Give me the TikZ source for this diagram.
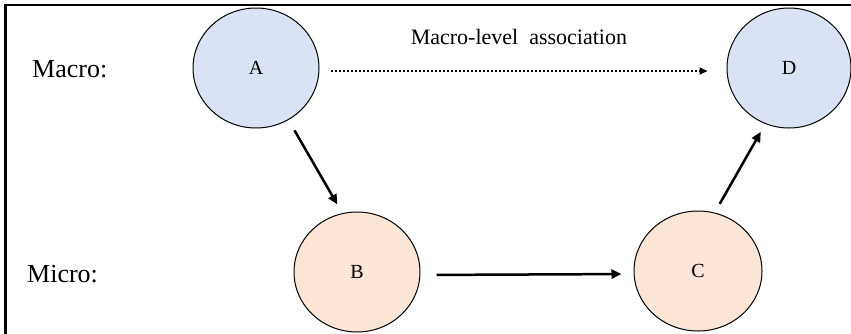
\documentclass[tikz,border=0pt]{standalone}
\usepackage{fontspec}
\setmainfont{Liberation Serif}
\usetikzlibrary{arrows.meta,shapes.geometric}
\definecolor{macrofill}{HTML}{DAE3F3}
\definecolor{microfill}{HTML}{FBE5D6}
\tikzset{
  circnode/.style={ellipse, draw=black, line width=1pt, minimum width=126pt, minimum height=120pt, inner sep=0pt, font=\fontsize{20}{22}\selectfont},
  macronode/.style={circnode, fill=macrofill},
  micronode/.style={circnode, fill=microfill},
  levellabel/.style={font=\fontsize{26}{28}\selectfont, inner sep=0pt},
  causal/.style={line width=2.5pt, -{Triangle[length=10pt,width=9pt]}},
  assoc/.style={line width=2.3pt, dash pattern=on 2pt off 2pt, -{Triangle[length=8pt,width=7pt]}},
}
\begin{document}
\begin{tikzpicture}[x=1pt,y=-1pt]
\useasboundingbox (0,0) rectangle (851,333);
\fill[white] (0,0) rectangle (851,333);
\draw[line width=2.2pt] (852,5) -- (5.5,5) -- (5.5,334);
\node[macronode] (A) at (256,68) {A};
\node[macronode, minimum width=124pt] (D) at (789,68) {D};
\node[micronode] (B) at (357,272) {B};
\node[micronode, minimum width=128pt] (C) at (698,271) {C};
\node[levellabel, anchor=west] (macrolbl) at (32,69) {Macro:};
\node[levellabel, anchor=west] (microlbl) at (27,274) {Micro:};
\draw[assoc, shorten <=11pt, shorten >=19pt] ([yshift=-3pt]A.east) -- ([yshift=-3pt]D.west)
  node[pos=0.49, above=25pt, font=\fontsize{22}{24}\selectfont, inner sep=0pt] (assoclbl) {Macro-level\ \ association};
\draw[causal, shorten <=12pt, shorten >=10pt] (A.-58) -- (B.104);
\draw[causal, shorten <=16pt, shorten >=12pt] ([yshift=-3pt]B.east) -- ([yshift=-3pt]C.west);
\draw[causal, shorten <=10pt, shorten >=9pt] (C.74) -- (D.247);
\end{tikzpicture}
\end{document}
